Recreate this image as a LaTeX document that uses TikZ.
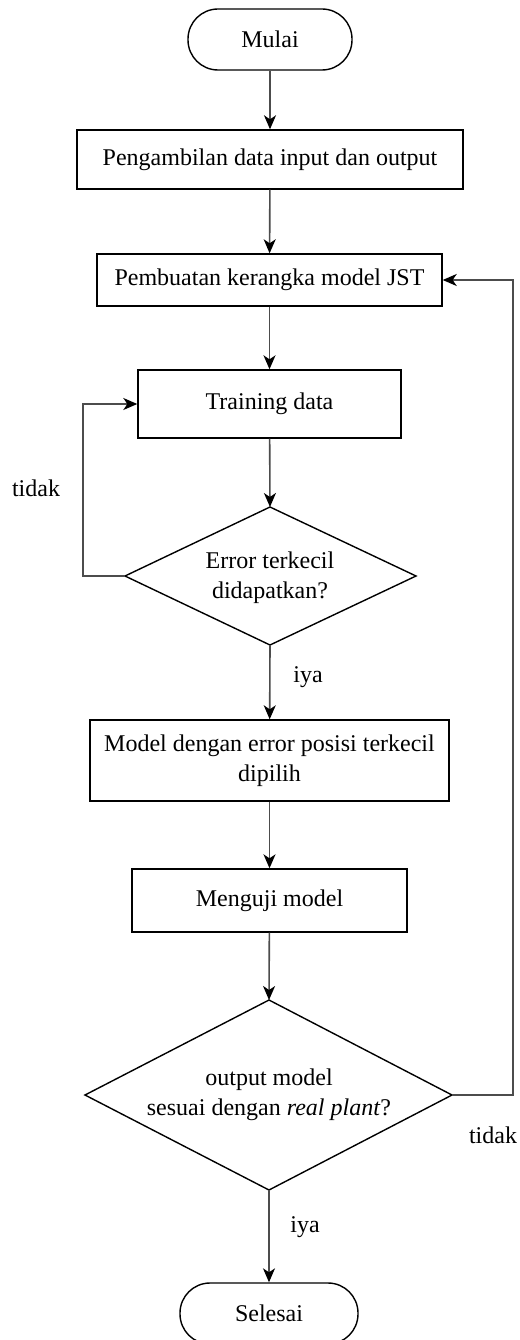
\documentclass[tikz,border=0pt]{standalone}
\usepackage{fontspec}
\setmainfont{Liberation Serif}
\usetikzlibrary{arrows.meta}
\begin{document}
\begin{tikzpicture}[x=1pt,y=-1pt,
  every node/.style={font=\fontsize{24}{30}\selectfont, align=center, inner sep=0pt},
  box/.style={draw, line width=1.4pt, rectangle},
  term/.style={draw, line width=1.4pt, rectangle, rounded corners=30pt},
  decline/.style={draw, line width=1.4pt, line join=miter},
  conn/.style={line width=1.6pt, draw=black!70, -{Stealth[length=14pt,width=12pt,inset=4pt,color=black]}},
  lbl/.style={}
]
\useasboundingbox (0,0) rectangle (519,1340);
\fill[white] (0,0) rectangle (519,1340);
\node[term, minimum width=164pt, minimum height=61pt] (start) at (270,39.5) {Mulai};
\node[box, minimum width=386pt, minimum height=59pt] (b1) at (270,159.5) {Pengambilan data input dan output};
\node[box, minimum width=345pt, minimum height=52pt] (b2) at (269.5,280) {Pembuatan kerangka model JST};
\node[box, minimum width=263pt, minimum height=68pt] (b3) at (269.5,404) {Training data};
% decision 1
\coordinate (d1t) at (270,507);
\coordinate (d1b) at (270,645);
\coordinate (d1l) at (125,576);
\coordinate (d1r) at (416,576);
\draw[decline] (d1t) -- (d1r) -- (d1b) -- (d1l) -- cycle;
\node (d1) at (270,578) {Error terkecil\\didapatkan?};
\node[box, minimum width=359pt, minimum height=81pt] (b4) at (269.5,760.5) {Model dengan error posisi terkecil\\dipilih};
\node[box, minimum width=275pt, minimum height=63pt] (b5) at (269.5,900.5) {Menguji model};
% decision 2
\coordinate (d2t) at (269,1000);
\coordinate (d2b) at (269,1190);
\coordinate (d2l) at (85,1095);
\coordinate (d2r) at (452,1095);
\draw[decline] (d2t) -- (d2r) -- (d2b) -- (d2l) -- cycle;
\node (d2) at (269,1095) {output model\\sesuai dengan \textit{real plant}?};
\node[term, minimum width=178pt, minimum height=61pt] (end) at (269,1313.5) {Selesai};

\coordinate (lp) at (83,576);
\coordinate (rp) at (513,1095);

\draw[conn] (start) -- (b1);
\draw[conn] (b1) -- (b2);
\draw[conn] (b2) -- (b3);
\draw[conn] (b3) -- (d1t);
\draw[conn] (d1b) -- (b4);
\draw[conn] (b4) -- (b5);
\draw[conn] (b5) -- (d2t);
\draw[conn] (d2b) -- (end);
\draw[conn] (d1l) -- (lp) |- (b3.west);
\draw[conn] (d2r) -- (rp) |- (b2.east);

\node[lbl] (t1) at (36,488) {tidak};
\node[lbl] (i1) at (308,677) {iya};
\node[lbl] (t2) at (493,1135) {tidak};
\node[lbl] (i2) at (305,1227) {iya};
\end{tikzpicture}
\end{document}
